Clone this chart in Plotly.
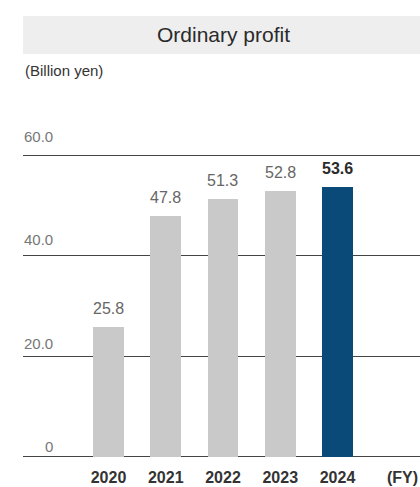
import plotly.graph_objects as go

# Ordinary profit by fiscal year (billion yen)
years = ["2020", "2021", "2022", "2023", "2024"]
profit = [25.8, 47.8, 51.3, 52.8, 53.6]
grid_values = [0, 20, 40, 60]
grid_labels = ["0", "20.0", "40.0", "60.0"]

FONT = "Liberation Sans, Arial, Helvetica, sans-serif"
GREY_BAR = "#c8c9c8"
NAVY_BAR = "#0a4a78"

colors = [NAVY_BAR if y == years[-1] else GREY_BAR for y in years]
positions = list(range(len(years)))

fig = go.Figure()
fig.add_trace(go.Bar(
    x=positions, y=profit, marker=dict(color=colors, line=dict(width=0)),
    width=0.54, hoverinfo="skip", showlegend=False,
))

annotations = []
# value labels above each bar (latest year emphasised)
for i, v in zip(positions, profit):
    latest = i == positions[-1]
    annotations.append(dict(
        x=i, y=v, xref="x", yref="y", text=f"{v:.1f}", showarrow=False,
        yanchor="bottom", yshift=8,
        font=dict(family=FONT, size=16, color="#2a2a2a" if latest else "#666666",
                  weight="bold" if latest else "normal"),
    ))

# y tick labels sit above their gridlines at the left edge
label_lift = [10, 13, 16, 19]
for val, lab, lift in zip(grid_values, grid_labels, label_lift):
    annotations.append(dict(
        x=0, y=val, xref="paper", yref="y", text=lab, showarrow=False,
        xanchor="right", xshift=32, yanchor="middle", yshift=lift,
        font=dict(family=FONT, size=15, color="#777777"),
    ))

# fiscal-year unit marker after the last category
annotations.append(dict(
    x=1, y=-1, xref="paper", yref="y", text="(FY)", showarrow=False,
    xanchor="right", yanchor="middle", yshift=-15,
    font=dict(family=FONT, size=16, color="#333333", weight="bold"),
))

# unit label
annotations.append(dict(
    x=0, y=1.2535, xref="paper", yref="paper", text="(Billion yen)", showarrow=False,
    xanchor="left", yanchor="middle",
    font=dict(family=FONT, size=15, color="#333333"),
))

# heading text on grey band
annotations.append(dict(
    x=0.506, y=1.3686, xref="paper", yref="paper", text="Ordinary profit", showarrow=False,
    xanchor="center", yanchor="middle",
    font=dict(family=FONT, size=21, color="#2a2a2a"),
))

fig.update_layout(
    width=420, height=487,
    margin=dict(l=23, r=0, t=150, b=25, pad=0),
    paper_bgcolor="white", plot_bgcolor="white",
    bargap=0,
    annotations=annotations,
    shapes=[dict(type="rect", xref="paper", yref="paper", x0=0, x1=1.1,
                 y0=1.3077, y1=1.4295, fillcolor="#eeeeee", line=dict(width=0),
                 layer="below")],
    xaxis=dict(range=[-1.493, 5.441], tickvals=positions, ticktext=years,
               showgrid=False, zeroline=False, automargin=False,
               showline=False, ticks="", ticklabelstandoff=4,
               tickfont=dict(family=FONT, size=16, color="#333333", weight="bold"),
               fixedrange=True),
    yaxis=dict(range=[-1, 61], tickvals=grid_values, showticklabels=False,
               showgrid=True, gridcolor="#444444", gridwidth=1, zeroline=False,
               showline=False, automargin=False, fixedrange=True),
)

fig.write_html("out.html")
